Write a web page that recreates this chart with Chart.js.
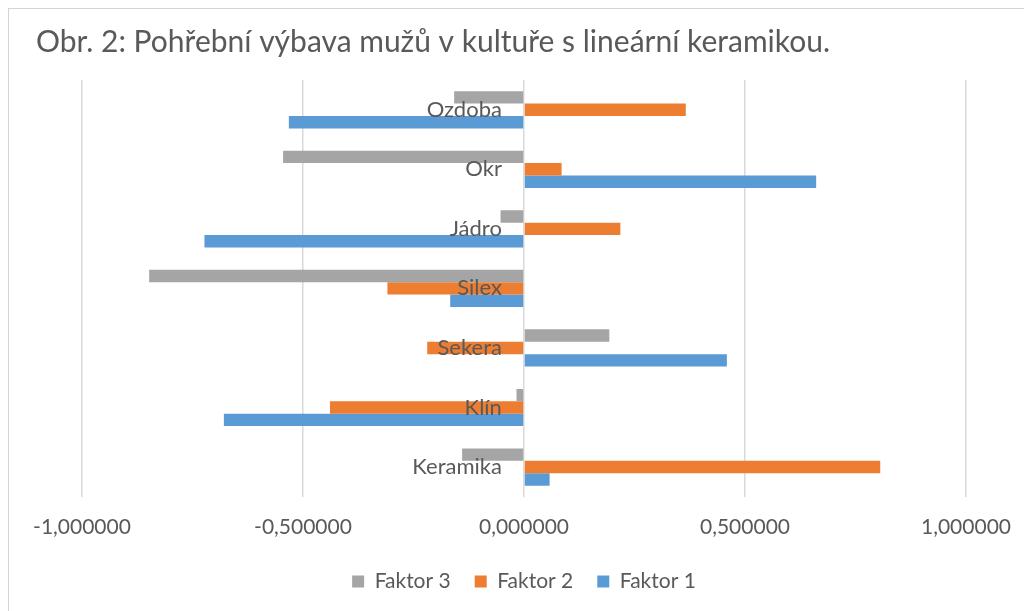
<!DOCTYPE html>
<html>
<head>
<title>Obr. 2</title>
<style>
body { margin: 0; overflow: hidden; background: #fff; }
#frame { position: absolute; left: 8px; top: 8px; width: 1100px; height: 700px; border: 1px solid #d4d4d4; }
#chart { position: absolute; left: 0; top: 0; }
</style>
<script src="https://cdn.jsdelivr.net/npm/chart.js@4"></script>
</head>
<body>
<div id="frame"></div>
<canvas id="chart" width="1024" height="611"></canvas>
<script>
// categories top to bottom, as in the picture
let categories = ['Ozdoba', 'Okr', 'Jádro', 'Silex', 'Sekera', 'Klín', 'Keramika'];
let faktor3 = [-0.158, -0.545, -0.053, -0.848, 0.193, -0.017, -0.140];
let faktor2 = [0.366, 0.085, 0.218, -0.309, -0.219, -0.439, 0.806];
let faktor1 = [-0.532, 0.661, -0.723, -0.167, 0.459, -0.679, 0.058];
let xTicks = [-1, -0.5, 0, 0.5, 1];

let grey = '#595959', font = 'Lato, "Open Sans", sans-serif';
Chart.defaults.font.family = font;
Chart.defaults.color = grey;

let ctx = document.getElementById('chart').getContext('2d');
let chart = new Chart(ctx, {
    type: 'bar',
    data: {
        labels: categories,
        datasets: [
            { label: 'Faktor 3', data: faktor3, backgroundColor: '#a5a5a5' },
            { label: 'Faktor 2', data: faktor2, backgroundColor: '#ed7d31' },
            { label: 'Faktor 1', data: faktor1, backgroundColor: '#5b9bd5' }
        ]
    },
    options: {
        responsive: false,
        animation: false,
        indexAxis: 'y',
        layout: { padding: { left: 36, right: 58, top: 16, bottom: 9 } },
        datasets: { bar: { categoryPercentage: 0.625, barPercentage: 1, borderWidth: 0 } },
        scales: {
            x: {
                min: -1, max: 1,
                afterBuildTicks: function(s) { s.ticks = xTicks.map(v => ({ value: v })); },
                // invisible tick marks give the labels their distance from the plot
                grid: { color: '#d9d9d9', lineWidth: 1.5, drawTicks: true, tickLength: 18, tickColor: 'rgba(0,0,0,0)' },
                border: { display: false },
                ticks: {
                    padding: 0,
                    font: { size: 21 },
                    color: grey,
                    callback: v => v.toFixed(6).replace('.', ',')
                },
                afterFit: function(s) { s.height += 7; }
            },
            y: {
                // category names sit just left of the zero line (the zero line itself is an x grid line)
                position: { x: -0.05 },
                grid: { display: false },
                border: { display: false },
                ticks: { font: { size: 22 }, color: grey, z: 1 }
            },
            // empty axis only to push the plot area away from the title's left edge
            spacer: {
                type: 'linear', position: 'left',
                grid: { display: false }, border: { display: false },
                ticks: { display: false },
                afterFit: function(s) { s.width = 46; }
            }
        },
        plugins: {
            title: {
                display: true,
                text: 'Obr. 2: Pohřební výbava mužů v kultuře s lineární keramikou.',
                align: 'start',
                color: grey,
                font: { size: 30, weight: 'normal' },
                padding: { top: 8, bottom: 20 }
            },
            legend: {
                position: 'bottom',
                fullSize: false,
                labels: { boxWidth: 12, boxHeight: 12, padding: 24, font: { size: 21 }, color: grey }
            },
            tooltip: { enabled: false }
        }
    }
});
</script>
</body>
</html>
